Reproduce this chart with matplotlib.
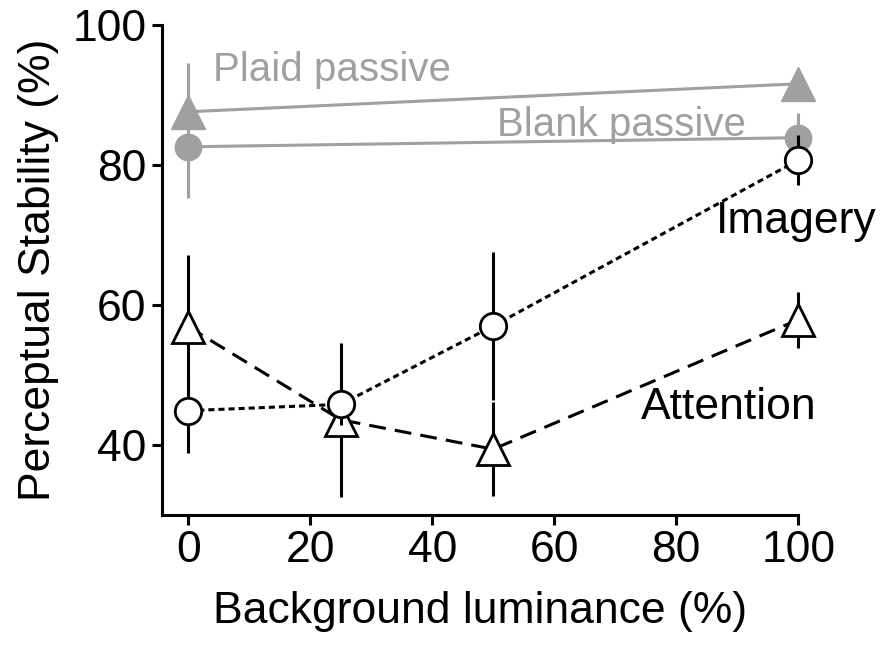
import numpy as np
import matplotlib.pyplot as plt

plt.rcParams['font.family'] = ['Liberation Sans', 'DejaVu Sans']

# background luminance (%)
lum = [0, 25, 50, 100]
lum_passive = [0, 100]

# perceptual stability (%)
imagery = [44.9, 45.8, 57.0, 80.7]
imagery_err = [6.0, 3.0, 10.6, 3.6]
attention = [56.9, 43.6, 39.4, 57.9]
attention_err = [10.2, 11.0, 6.7, 4.0]
plaid = [87.6, 91.6]
plaid_err = [7.0, 2.0]
blank = [82.6, 83.9]
blank_err = [7.3, 3.5]

gray = '#a0a0a0'
lw = 2.2

fig = plt.figure(figsize=(8.85, 6.49), dpi=100)
ax = fig.add_axes([0.183, 0.2065, 0.902 - 0.183, 0.9615 - 0.2065])

# passive conditions (gray)
ax.errorbar(lum_passive, blank, yerr=blank_err, color=gray, lw=lw, elinewidth=lw,
            marker='o', ms=19, mfc=gray, mec=gray, capsize=0, clip_on=False, zorder=2)
ax.errorbar(lum_passive, plaid, yerr=plaid_err, color=gray, lw=lw, elinewidth=lw,
            marker='^', ms=25, mfc=gray, mec=gray, capsize=0, clip_on=False, zorder=2)

# active conditions (black, open markers)
ax.errorbar(lum, attention, yerr=attention_err, color='k', lw=lw, elinewidth=lw,
            ls=(0, (5.5, 3)), marker='^', ms=23, mfc='white', mec='k', mew=2,
            capsize=0, clip_on=False, zorder=3)
ax.errorbar(lum, imagery, yerr=imagery_err, color='k', lw=lw, elinewidth=lw,
            ls=(0, (2, 1.3)), marker='o', ms=19, mfc='white', mec='k', mew=2,
            capsize=0, clip_on=False, zorder=4)

ax.text(4.1, 93.6, 'Plaid passive', color=gray, fontsize=29, va='center', ha='left')
ax.text(50.7, 85.7, 'Blank passive', color=gray, fontsize=29, va='center', ha='left')
ax.text(86.5, 71.9, 'Imagery', color='k', fontsize=32, va='center', ha='left')
ax.text(74.2, 45.3, 'Attention', color='k', fontsize=32, va='center', ha='left')

ax.set_xlim(-4.3, 100)
ax.set_ylim(30, 100)
ax.set_xticks([0, 20, 40, 60, 80, 100])
ax.set_yticks([40, 60, 80, 100])
ax.set_xlabel('Background luminance (%)', fontsize=32, labelpad=14)
ax.set_ylabel('Perceptual Stability (%)', fontsize=32, labelpad=10)

for s in ['top', 'right']:
    ax.spines[s].set_visible(False)
for s in ['left', 'bottom']:
    ax.spines[s].set_linewidth(lw)
ax.tick_params(width=lw, length=7, labelsize=32, pad=4)

fig.savefig('out.png', dpi=100)
